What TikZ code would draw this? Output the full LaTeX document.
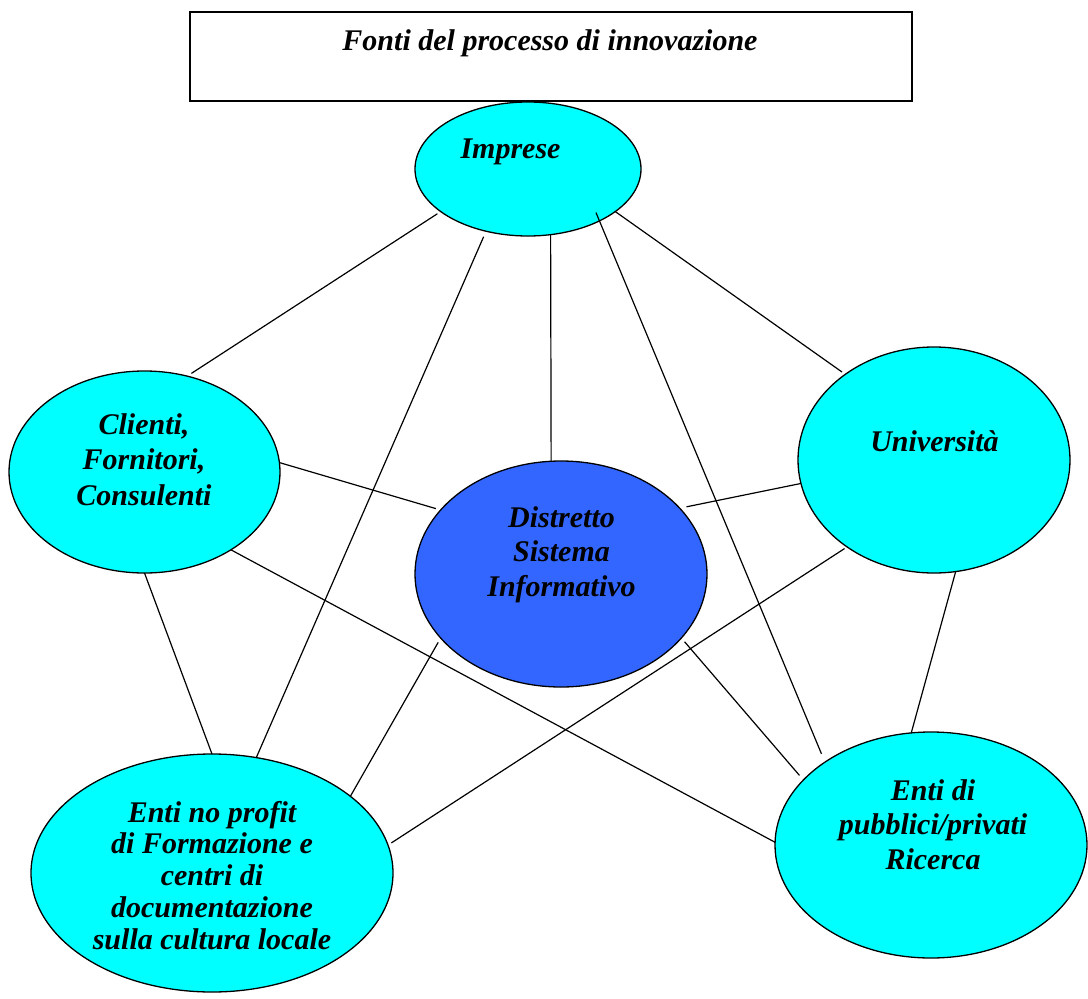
\documentclass[tikz,border=0pt]{standalone}
\usepackage{fontspec}
\setmainfont{Liberation Serif}
\usetikzlibrary{shapes.geometric}
\definecolor{cyanfill}{HTML}{00FFFF}
\definecolor{bluefill}{HTML}{3366FF}
\begin{document}
\begin{tikzpicture}[x=1pt,y=-1pt,
  ell/.style={ellipse, draw, line width=1.3pt, inner sep=0pt, outer sep=0pt, fill=cyanfill},
  lbl/.style={align=center, inner sep=0pt, font=\bfseries\itshape\fontsize{30}{#1}\selectfont},
  lbl/.default=34.5,
  link/.style={line width=1.2pt}]
\useasboundingbox (0,0) rectangle (1088,999);
% title
\node[draw, line width=1.3pt, minimum width=722pt, minimum height=89pt, inner sep=0pt] (title) at (551,56.5) {};
\node[lbl, anchor=base] (titletext) at (550,50) {Fonti del processo di innovazione};
% ellipses
\node[ell, minimum width=226pt, minimum height=134pt] (imp) at (528,169) {};
\node[ell, minimum width=271pt, minimum height=202pt] (cli) at (144.5,472) {};
\node[ell, minimum width=292pt, minimum height=226pt, fill=bluefill] (dis) at (561,574) {};
\node[ell, minimum width=272pt, minimum height=226pt] (uni) at (934,460) {};
\node[ell, minimum width=362pt, minimum height=238pt] (nop) at (212,873) {};
\node[ell, minimum width=312pt, minimum height=226pt] (ric) at (931,845) {};
% connectors
\draw[link, shorten <=4pt, shorten >=5pt] (imp.206) -- (cli.66);
\draw[link, shorten <=6pt] (imp.236) -- (nop.69);
\draw[link] (imp.289) -- (dis.95);
\draw[link, shorten <=-9pt, shorten >=9pt] (imp.324) -- (ric.142);
\draw[link, shorten >=4pt] (imp.334) -- (uni.136);
\draw[link, shorten >=5pt] (cli.4) -- (dis.152);
\draw[link] (cli.318) -- (ric.179);
\draw[link] (cli.270) -- (nop.90);
\draw[link, shorten >=7pt] (uni.190) -- (dis.29);
\draw[link, shorten <=3pt, shorten >=4pt] (uni.225) -- (nop.9);
\draw[link] (uni.281) -- (ric.100);
\draw[link, shorten <=5pt] (dis.208) -- (nop.29);
\draw[link, shorten <=5pt, shorten >=6pt] (dis.332) -- (ric.153);
% labels
\node[lbl, anchor=base] (imptext) at (510.5,158) {Imprese};
\node[lbl=35.5] (clitext) at (144,459.7) {Clienti,\\Fornitori,\\Consulenti};
\node[lbl] (distext) at (561.5,554.3) {Distretto\\Sistema\\Informativo};
\node[lbl, anchor=base] (unitext) at (934.5,451) {Università};
\node[lbl=31.75] (noptext) at (212,875.2) {Enti no profit\\di Formazione e\\centri di\\documentazione\\sulla cultura locale};
\node[lbl] (rictext) at (933,824.3) {Enti di\\pubblici/privati\\Ricerca};
\end{tikzpicture}
\end{document}
